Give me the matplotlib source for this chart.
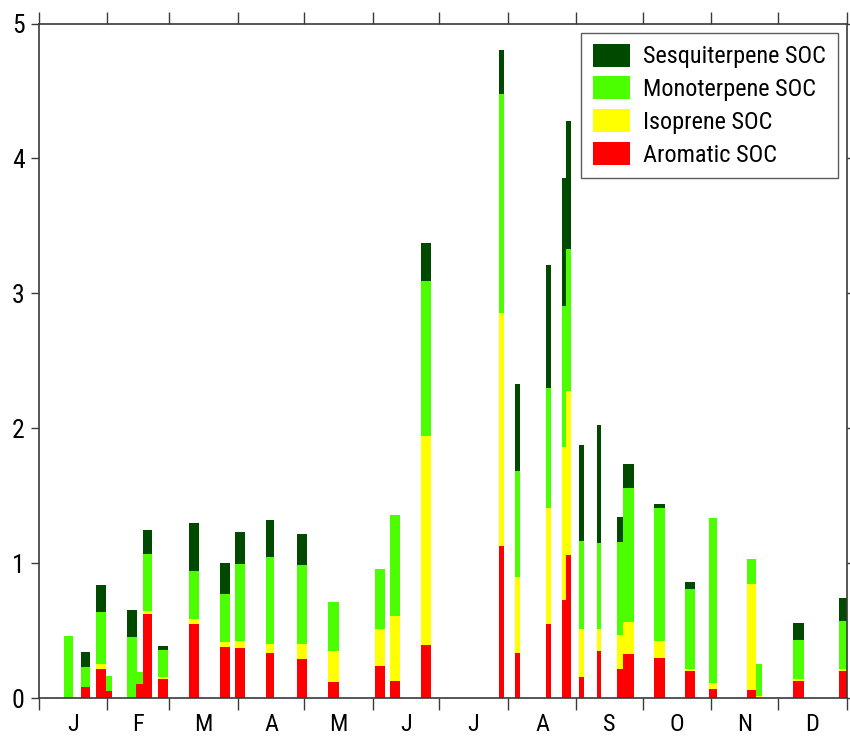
import matplotlib
matplotlib.use("Agg")
import matplotlib.pyplot as plt
from matplotlib import font_manager
import numpy as np

# Sampling periods (day of year, start and end) and SOC contributions
day_start = [11.3, 19.0, 25.9, 30.3, 40.1, 44.0, 47.1, 54.1, 67.8, 81.9, 88.8,
             102.7, 116.9, 130.9, 151.9, 159.0, 173.0, 207.8, 215.2, 229.2,
             236.3, 238.1, 244.1, 252.1, 261.4, 263.9, 278.0, 292.0, 303.0,
             320.0, 324.2, 340.7, 361.8]
day_end = [15.5, 23.2, 30.3, 33.3, 44.4, 48.0, 51.4, 58.3, 72.4, 86.4, 93.4,
           106.5, 121.5, 135.7, 156.3, 163.4, 177.4, 210.4, 217.4, 231.4,
           238.5, 240.6, 246.5, 254.3, 264.5, 268.8, 282.8, 296.5, 306.4,
           324.2, 326.9, 345.6, 366.0]

aromatic = [0.0, 0.084, 0.212, 0.054, 0.0, 0.101, 0.626, 0.143, 0.547, 0.380,
            0.370, 0.335, 0.286, 0.118, 0.240, 0.125, 0.395, 1.126, 0.330,
            0.546, 0.730, 1.057, 0.159, 0.352, 0.213, 0.328, 0.299, 0.202,
            0.069, 0.062, 0.0, 0.123, 0.202]
isoprene = [0.0, 0.0, 0.037, 0.0, 0.0, 0.0, 0.017, 0.012, 0.035, 0.034, 0.052,
            0.062, 0.111, 0.227, 0.270, 0.480, 1.547, 1.725, 0.567, 0.859,
            1.127, 1.220, 0.352, 0.163, 0.252, 0.235, 0.124, 0.010, 0.045,
            0.782, 0.017, 0.015, 0.010]
monoterpene = [0.46, 0.148, 0.387, 0.109, 0.449, 0.094, 0.422, 0.200, 0.357,
               0.360, 0.571, 0.651, 0.589, 0.370, 0.448, 0.748, 1.151, 1.624,
               0.786, 0.890, 1.050, 1.054, 0.650, 0.636, 0.695, 0.994, 0.983,
               0.598, 1.222, 0.183, 0.237, 0.294, 0.361]
sesquiterpene = [0.0, 0.106, 0.200, 0.0, 0.204, 0.0, 0.178, 0.032, 0.360,
                 0.227, 0.237, 0.274, 0.229, 0.0, 0.0, 0.0, 0.281, 0.327,
                 0.647, 0.918, 0.946, 0.949, 0.711, 0.872, 0.184, 0.176,
                 0.035, 0.052, 0.0, 0.0, 0.0, 0.121, 0.165]

month_labels = ["J", "F", "M", "A", "M", "J", "J", "A", "S", "O", "N", "D"]
month_days = [31, 28, 31, 30, 31, 30, 31, 31, 30, 31, 30, 31]

components = [
    ("Aromatic SOC", aromatic, "#ff0000"),
    ("Isoprene SOC", isoprene, "#ffff00"),
    ("Monoterpene SOC", monoterpene, "#4cff00"),
    ("Sesquiterpene SOC", sesquiterpene, "#004a00"),
]

# prefer a narrow sans face if one is installed
available = {f.name for f in font_manager.fontManager.ttflist}
narrow = None
for cand in ["Liberation Sans Narrow", "Arial Narrow", "Nimbus Sans Narrow",
             "Roboto Condensed", "Open Sans Condensed", "DejaVu Sans Condensed",
             "Noto Sans Condensed"]:
    if cand in available:
        narrow = cand
        break
if narrow is None:
    for n in sorted(available):
        if ("Narrow" in n or "Condensed" in n) and "Mono" not in n and "Serif" not in n:
            narrow = n
            break

if narrow:
    FONT = [narrow, "Liberation Sans", "DejaVu Sans"]
    fs_tick, fs_month, fs_leg = 18.5, 17.5, 17.5
else:
    FONT = ["Liberation Sans", "DejaVu Sans"]
    fs_tick, fs_month, fs_leg = 16.5, 16, 14.8
plt.rcParams["font.family"] = FONT

fig = plt.figure(figsize=(8.5, 7.37), dpi=100)
ax = fig.add_axes([38.5 / 850, 1 - 698 / 737, (846.5 - 38.5) / 850, (698 - 23.5) / 737])

start = np.array(day_start)
width = np.array(day_end) - start

# draw each sample's stacked column in chronological order so later samples overlay earlier ones
handles = {}
for i in range(len(start)):
    bottom = 0.0
    for name, vals, color in components:
        v = vals[i]
        b = ax.bar(start[i], v, width=width[i], bottom=bottom, align="edge",
                   color=color, linewidth=0)
        handles[name] = b
        bottom += v

ax.set_xlim(0, 365)
ax.set_ylim(0, 5)

month_edges = np.concatenate([[0], np.cumsum(month_days)])
month_mid = (month_edges[:-1] + month_edges[1:]) / 2
ax.set_xticks(month_edges)
ax.set_xticklabels([])
ax.set_xticks(month_mid, minor=True)
ax.set_xticklabels(month_labels, minor=True, fontsize=fs_month)
ax.set_yticks(range(6))
ax.set_yticklabels([str(v) for v in range(6)], fontsize=fs_tick)

spine_col = "#3a3a3a"
ax.tick_params(axis="x", which="major", direction="out", length=8.5, width=1.0,
               color=spine_col, top=True, bottom=True)
ax.tick_params(axis="x", which="minor", length=0, pad=11, top=False)
ax.tick_params(axis="y", direction="out", length=6, width=1.0, pad=4,
               color=spine_col, left=True, right=True)
for s in ax.spines.values():
    s.set_color(spine_col)
    s.set_linewidth(1.2)

order = ["Sesquiterpene SOC", "Monoterpene SOC", "Isoprene SOC", "Aromatic SOC"]
leg = ax.legend([handles[n] for n in order], order, loc="upper right",
                fontsize=fs_leg, frameon=True, fancybox=False, shadow=False,
                handlelength=1.48 * 18 / fs_leg, handleheight=1.04 * 18 / fs_leg,
                handletextpad=0.55 * 18 / fs_leg,
                labelspacing=0.32 * 18 / fs_leg, borderpad=0.45 * 18 / fs_leg,
                borderaxespad=0.36 * 18 / fs_leg)
leg.get_frame().set_edgecolor("#333333")
leg.get_frame().set_linewidth(1.0)

fig.savefig("out.png", dpi=100)
